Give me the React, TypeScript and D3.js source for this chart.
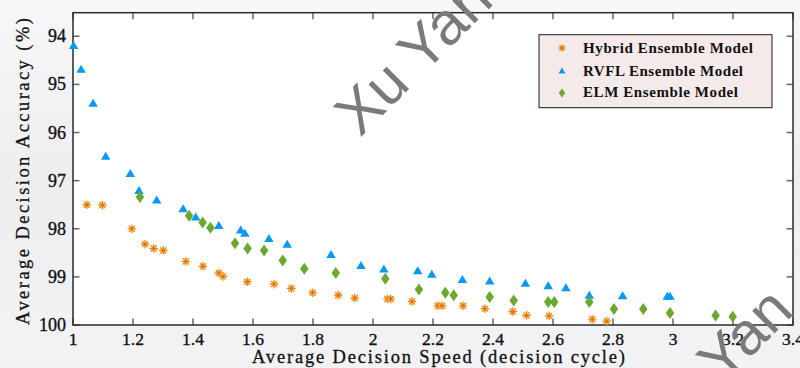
import React from 'react';
import * as d3 from 'd3';

const xTicks = [1, 1.2, 1.4, 1.6, 1.8, 2, 2.2, 2.4, 2.6, 2.8, 3, 3.2, 3.4];
const yTicks = [94, 95, 96, 97, 98, 99, 100];

const seriesNames = ['Hybrid Ensemble Model', 'RVFL Ensemble Model', 'ELM Ensemble Model'];

const hybridX = [1.046, 1.098, 1.196, 1.24, 1.269, 1.301, 1.376, 1.433, 1.486, 1.5, 1.581, 1.67, 1.728, 1.799, 1.884, 1.939, 2.048, 2.059, 2.13, 2.216, 2.23, 2.3, 2.373, 2.466, 2.512, 2.587, 2.731, 2.779];
const hybridY = [97.5, 97.51, 98.0, 98.32, 98.41, 98.45, 98.68, 98.78, 98.92, 98.99, 99.1, 99.15, 99.24, 99.33, 99.38, 99.44, 99.46, 99.46, 99.51, 99.6, 99.6, 99.6, 99.66, 99.72, 99.8, 99.81, 99.88, 99.92];

const rvflX = [1.002, 1.027, 1.067, 1.109, 1.191, 1.22, 1.279, 1.367, 1.409, 1.486, 1.559, 1.573, 1.653, 1.714, 1.86, 1.96, 2.036, 2.149, 2.196, 2.298, 2.389, 2.508, 2.584, 2.643, 2.721, 2.832, 2.981, 2.99];
const rvflY = [94.2, 94.69, 95.4, 96.5, 96.86, 97.21, 97.41, 97.59, 97.76, 97.94, 98.03, 98.1, 98.21, 98.33, 98.54, 98.77, 98.84, 98.88, 98.95, 99.06, 99.09, 99.14, 99.19, 99.23, 99.39, 99.4, 99.41, 99.41];

const elmX = [1.223, 1.387, 1.432, 1.458, 1.54, 1.582, 1.637, 1.699, 1.771, 1.876, 2.041, 2.153, 2.241, 2.269, 2.389, 2.469, 2.584, 2.604, 2.721, 2.803, 2.901, 2.99, 3.142, 3.199];
const elmY = [97.34, 97.73, 97.87, 97.98, 98.3, 98.41, 98.45, 98.66, 98.83, 98.92, 99.04, 99.26, 99.33, 99.38, 99.42, 99.49, 99.52, 99.52, 99.52, 99.67, 99.67, 99.75, 99.8, 99.83];

const ORANGE = '#ee8410';
const BLUE = '#0a98f6';
const GREEN = '#6aa82e';

const W = 800;
const H = 368;
const L = 73, R = 793, T = 12.7, B = 325;

const serif = '"Liberation Serif", "Times New Roman", serif';

const legendY = [52.5, 75.5, 97];
const legendLen = [170, 160, 155];

function asterisk(r: number) {
  const p = d3.path();
  for (let i = 0; i < 4; i++) {
    const a = (i * Math.PI) / 4;
    p.moveTo(-r * Math.cos(a), -r * Math.sin(a));
    p.lineTo(r * Math.cos(a), r * Math.sin(a));
  }
  return p.toString();
}
function triangle(w: number, h: number) {
  const p = d3.path();
  p.moveTo(0, -h * 0.6);
  p.lineTo(w / 2, h * 0.4);
  p.lineTo(-w / 2, h * 0.4);
  p.closePath();
  return p.toString();
}
function diamond(w: number, h: number) {
  const p = d3.path();
  p.moveTo(0, -h / 2);
  p.lineTo(w / 2, 0);
  p.lineTo(0, h / 2);
  p.lineTo(-w / 2, 0);
  p.closePath();
  return p.toString();
}

function Star({ x, y, r }: { x: number; y: number; r: number }) {
  return (
    <g transform={`translate(${x},${y})`}>
      <circle r={r * 0.8} fill="#fbd9b0" opacity={0.8} />
      <path d={asterisk(r)} stroke={ORANGE} strokeWidth={1.2} fill="none" />
      <circle r={1.2} fill="#e07000" />
    </g>
  );
}

export default function App() {
  const x = d3.scaleLinear().domain([1, 3.4]).range([L, R]);
  const y = d3.scaleLinear().domain([93.51, 100]).range([T, B]);

  const tri = triangle(9.5, 8);
  const dia = diamond(8.5, 12);

  return (
    <svg width={W} height={H} style={{ position: 'absolute', left: 0, top: 0, display: 'block' }}>
      <defs>
        <linearGradient id="bg" x1="0" y1="0" x2="0" y2="1">
          <stop offset="0" stopColor="#f7f7f9" />
          <stop offset="0.5" stopColor="#eeeef0" />
          <stop offset="1" stopColor="#f3f3f5" />
        </linearGradient>
      </defs>
      <rect x={0} y={0} width={W} height={H} fill="url(#bg)" />
      <rect x={L} y={T} width={R - L} height={B - T} fill="#ffffff" />

      {xTicks.map((t) => (
        <g key={'xt' + t}>
          <line x1={x(t)} x2={x(t)} y1={B} y2={B - 6.5} stroke="#666" strokeWidth={1.5} />
          <line x1={x(t)} x2={x(t)} y1={T} y2={T + 6.5} stroke="#666" strokeWidth={1.5} />
          <text x={x(t)} y={345} textAnchor="middle" fontFamily={serif} fontSize={17.5} fill="#111" stroke="#111" strokeWidth={0.35}>
            {String(t)}
          </text>
        </g>
      ))}
      {yTicks.map((t) => (
        <g key={'yt' + t}>
          <line x1={L} x2={L + 6.5} y1={y(t)} y2={y(t)} stroke="#666" strokeWidth={1.5} />
          <line x1={R} x2={R - 6.5} y1={y(t)} y2={y(t)} stroke="#666" strokeWidth={1.5} />
          <text x={66} y={y(t) + 6} textAnchor="end" fontFamily={serif} fontSize={18} fill="#111" stroke="#111" strokeWidth={0.35}>
            {String(t)}
          </text>
        </g>
      ))}

      <rect x={L} y={T} width={R - L} height={B - T} fill="none" stroke="#2a2a2a" strokeWidth={1.5} />

      <g>
        {hybridX.map((v, i) => (
          <Star key={'h' + i} x={x(v)} y={y(hybridY[i])} r={4.3} />
        ))}
      </g>
      <g>
        {rvflX.map((v, i) => (
          <path key={'r' + i} d={tri} transform={`translate(${x(v)},${y(rvflY[i])})`} fill={BLUE} />
        ))}
      </g>
      <g>
        {elmX.map((v, i) => (
          <path key={'e' + i} d={dia} transform={`translate(${x(v)},${y(elmY[i])})`} fill={GREEN} />
        ))}
      </g>

      <text x={252} y={363} fontFamily={serif} fontSize={18.5} fill="#111" stroke="#111" strokeWidth={0.3} textLength={373} lengthAdjust="spacing">
        Average Decision Speed (decision cycle)
      </text>
      <text
        transform={`translate(29,${325}) rotate(-90)`}
        x={0}
        y={0}
        fontFamily={serif}
        fontSize={18.5}
        fill="#111"
        stroke="#111"
        strokeWidth={0.3}
        textLength={307}
        lengthAdjust="spacing"
      >
        Average Decision Accuracy (%)
      </text>

      <rect x={539} y={34.7} width={233} height={73} fill="#f5eaea" stroke="#1a1a1a" strokeWidth={1} />
      <Star x={562} y={48} r={3.6} />
      <path d={triangle(7, 6)} transform="translate(562,71)" fill={BLUE} />
      <path d={diamond(6.5, 9)} transform="translate(562,93)" fill={GREEN} />
      {seriesNames.map((n, i) => (
        <text
          key={n}
          x={583}
          y={legendY[i]}
          fontFamily={serif}
          fontWeight="bold"
          fontSize={15}
          fill="#111"
          textLength={legendLen[i]}
          lengthAdjust="spacing"
        >
          {n}
        </text>
      ))}

      <text
        transform="translate(360,138) rotate(-45)"
        fontFamily='"Liberation Sans", Arial, sans-serif'
        fontSize={60}
        fill="#7a7a7a"
      >
        Xu Yan
      </text>
      <text
        transform="translate(660,448) rotate(-45)"
        fontFamily='"Liberation Sans", Arial, sans-serif'
        fontSize={60}
        fill="#7a7a7a"
      >
        Xu Yan
      </text>
    </svg>
  );
}
